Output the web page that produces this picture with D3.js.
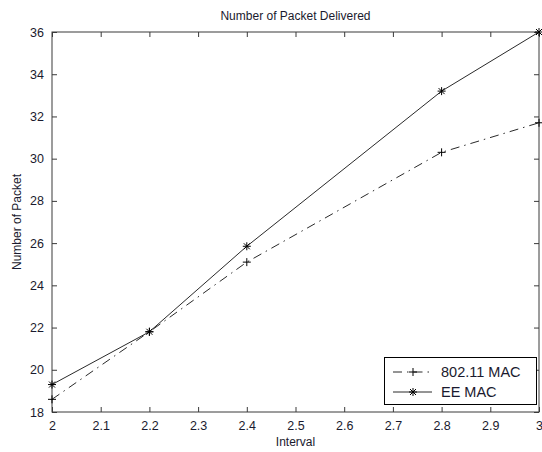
<!DOCTYPE html>
<html>
<head>
<meta charset="utf-8">
<script src="https://cdn.jsdelivr.net/npm/d3@7"></script>
<style>
  body { margin: 0; background: #fff; }
  text { font-family: "Liberation Sans", Arial, sans-serif; }
</style>
</head>
<body>
<div id="chart"></div>
<script>
// data
var intervals = [2, 2.2, 2.4, 2.8, 3];
var mac80211 = [18.6, 21.8, 25.1, 30.3, 31.7];
var eeMac = [19.3, 21.8, 25.85, 33.2, 36];
var xTicks = [2, 2.1, 2.2, 2.3, 2.4, 2.5, 2.6, 2.7, 2.8, 2.9, 3];
var yTicks = [18, 20, 22, 24, 26, 28, 30, 32, 34, 36];
var seriesNames = ["802.11 MAC", "EE MAC"];

var W = 542, H = 452;
var margin = { top: 32, right: 3, bottom: 40, left: 52 },
    width = W - margin.left - margin.right,
    height = H - margin.top - margin.bottom;

var svg = d3.select("#chart")
    .append("svg")
    .attr("width", W)
    .attr("height", H);

var g = svg.append("g")
    .attr("transform", "translate(" + margin.left + "," + margin.top + ")");

var x = d3.scaleLinear().domain([2, 3]).range([0, width]);
var y = d3.scaleLinear().domain([18, 36]).range([height, 0]);

var axisColor = "#3a3a3a";
var textColor = "#1a1a2e";

// box
g.append("rect")
    .attr("x", 0).attr("y", 0)
    .attr("width", width).attr("height", height)
    .attr("fill", "none")
    .attr("stroke", axisColor)
    .attr("stroke-width", 1);

// axes, ticks pointing inwards like matlab
function styleAxis(sel) {
    sel.select(".domain").remove();
    sel.selectAll(".tick line").attr("stroke", axisColor);
    sel.selectAll(".tick text")
        .attr("fill", textColor)
        .style("font-size", "12.5px")
        .style("font-family", "'Liberation Sans', Arial, sans-serif");
}

g.append("g")
    .attr("transform", "translate(0," + height + ")")
    .call(d3.axisBottom(x).tickValues(xTicks).tickSizeInner(-5).tickSizeOuter(0)
        .tickPadding(9).tickFormat(d3.format("~g")))
    .call(styleAxis);

g.append("g")
    .call(d3.axisTop(x).tickValues(xTicks).tickSizeInner(-5).tickSizeOuter(0).tickFormat(""))
    .call(styleAxis);

g.append("g")
    .call(d3.axisLeft(y).tickValues(yTicks).tickSizeInner(-5).tickSizeOuter(0).tickPadding(8))
    .call(styleAxis);

g.append("g")
    .attr("transform", "translate(" + width + ",0)")
    .call(d3.axisRight(y).tickValues(yTicks).tickSizeInner(-5).tickSizeOuter(0).tickFormat(""))
    .call(styleAxis);

// lines
var line = d3.line()
    .x(function (d) { return x(d[0]); })
    .y(function (d) { return y(d[1]); });

var lineColor = "#2a2a2a";
var dashes = ["9,5,1.5,5", null];
var seriesData = [mac80211, eeMac];

seriesData.forEach(function (vals, i) {
    var pts = intervals.map(function (v, j) { return [v, vals[j]]; });
    g.append("path")
        .datum(pts)
        .attr("fill", "none")
        .attr("stroke", lineColor)
        .attr("stroke-width", 1)
        .attr("stroke-dasharray", dashes[i])
        .attr("d", line);
    pts.forEach(function (p) {
        drawMarker(g, x(p[0]), y(p[1]), i);
    });
});

function drawMarker(parent, cx, cy, type) {
    var s = 4;
    var m = parent.append("g").attr("stroke", "#000").attr("stroke-width", 1);
    m.append("line").attr("x1", cx - s).attr("x2", cx + s).attr("y1", cy).attr("y2", cy);
    m.append("line").attr("x1", cx).attr("x2", cx).attr("y1", cy - s).attr("y2", cy + s);
    if (type === 1) {
        var d = 3;
        m.append("line").attr("x1", cx - d).attr("x2", cx + d).attr("y1", cy - d).attr("y2", cy + d);
        m.append("line").attr("x1", cx - d).attr("x2", cx + d).attr("y1", cy + d).attr("y2", cy - d);
    }
}

// legend
var lg = svg.append("g");
lg.append("rect")
    .attr("x", 384.5).attr("y", 357.5)
    .attr("width", 152).attr("height", 47)
    .attr("fill", "#fff")
    .attr("stroke", "#000");

seriesNames.forEach(function (name, i) {
    var ly = 372 + i * 20;
    lg.append("line")
        .attr("x1", 393).attr("x2", 432)
        .attr("y1", ly).attr("y2", ly)
        .attr("stroke", lineColor)
        .attr("stroke-dasharray", dashes[i]);
    drawMarker(lg, 413, ly, i);
    lg.append("text")
        .attr("x", 441).attr("y", ly + 5)
        .attr("fill", textColor)
        .style("font-size", "14.5px")
        .text(name);
});

// titles
svg.append("text")
    .attr("x", margin.left + width / 2).attr("y", 20)
    .attr("text-anchor", "middle")
    .attr("fill", textColor)
    .style("font-size", "12px")
    .text("Number of Packet Delivered");

svg.append("text")
    .attr("x", margin.left + width / 2).attr("y", 446)
    .attr("text-anchor", "middle")
    .attr("fill", textColor)
    .style("font-size", "12px")
    .text("Interval");

svg.append("text")
    .attr("transform", "translate(21," + (margin.top + height / 2) + ") rotate(-90)")
    .attr("text-anchor", "middle")
    .attr("fill", textColor)
    .style("font-size", "12px")
    .text("Number of Packet");
</script>
</body>
</html>
